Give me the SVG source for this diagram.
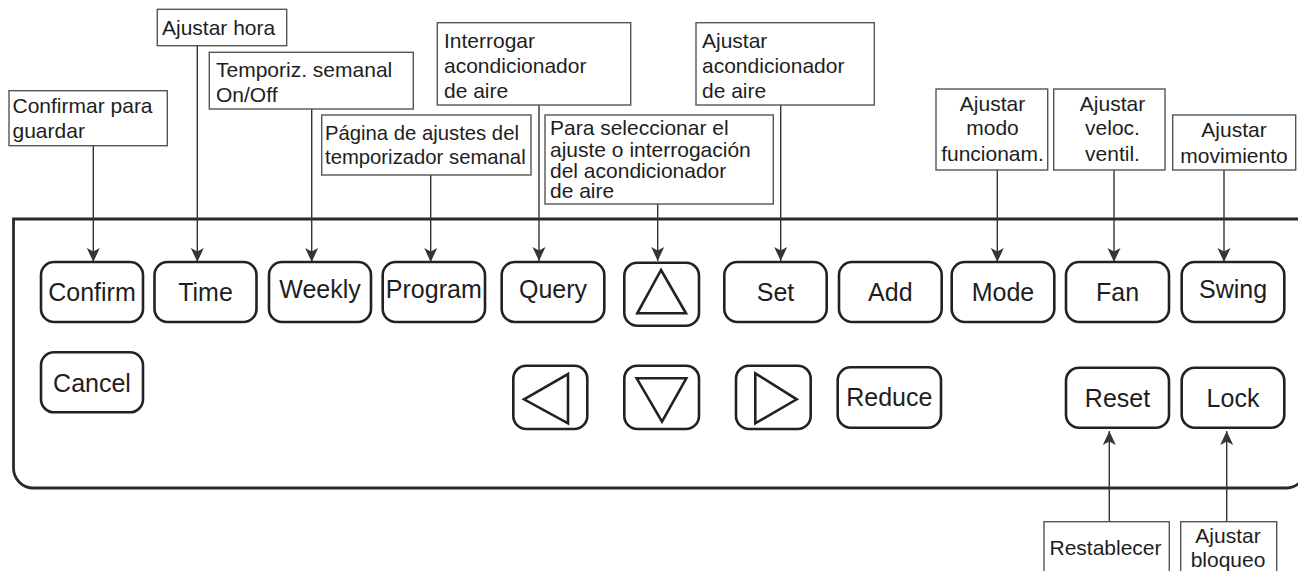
<svg xmlns="http://www.w3.org/2000/svg" width="1298" height="571" viewBox="0 0 1298 571">
<style>
.panel{fill:none;stroke:#2a2a2a;stroke-width:2.8}
.btn{fill:#fff;stroke:#222;stroke-width:2.6}
.tri{fill:none;stroke:#222;stroke-width:2.6;stroke-linejoin:miter}
.bt{font-family:"Liberation Sans",Arial,sans-serif;font-size:25px;fill:#1e1e1e;text-anchor:middle}
.lbl{fill:#fff;stroke:#555;stroke-width:1.4}
.lt{font-family:"Liberation Sans",Arial,sans-serif;font-size:21px;fill:#1e1e1e}
.c{text-anchor:middle}
.con{stroke:#333;stroke-width:1.4;fill:none;marker-end:url(#ah)}
</style>
<defs>
<marker id="ah" markerUnits="userSpaceOnUse" viewBox="-14 -7 14 14" markerWidth="14" markerHeight="14" refX="0" refY="0" orient="auto">
<path d="M0,0 L-14,-6.5 L-10.5,0 L-14,6.5 Z" fill="#2f3832"/>
</marker>
</defs>
<rect width="1298" height="571" fill="#fff"/>
<path class="panel" d="M1300,219 H13.5 V468 A20,20 0 0 0 33.5,488 H1286 A20,20 0 0 0 1306,468"/>

<g id="connectors">
<line class="con" x1="93.3" y1="145.7" x2="93.3" y2="262"/>
<line class="con" x1="197.3" y1="45.7" x2="197.3" y2="262"/>
<line class="con" x1="311.7" y1="109" x2="311.7" y2="262"/>
<line class="con" x1="430.7" y1="175" x2="430.7" y2="262"/>
<line class="con" x1="539" y1="105" x2="539" y2="261"/>
<line class="con" x1="657.7" y1="204" x2="657.7" y2="261"/>
<line class="con" x1="780.7" y1="105" x2="780.7" y2="261"/>
<line class="con" x1="997.3" y1="170" x2="997.3" y2="262"/>
<line class="con" x1="1114" y1="170" x2="1114" y2="262"/>
<line class="con" x1="1224" y1="170" x2="1224" y2="262"/>
<line class="con" x1="1109.3" y1="521.7" x2="1109.3" y2="431"/>
<line class="con" x1="1226.7" y1="521.7" x2="1226.7" y2="431"/>
</g>

<g id="btn-confirm"><rect class="btn" x="41" y="262" width="102" height="60" rx="13"/><text class="bt" x="92" y="300.7">Confirm</text></g>
<g id="btn-time"><rect class="btn" x="154.5" y="262" width="102" height="60" rx="13"/><text class="bt" x="205.5" y="300.7">Time</text></g>
<g id="btn-weekly"><rect class="btn" x="269" y="262" width="102" height="60" rx="13"/><text class="bt" x="320" y="298.3">Weekly</text></g>
<g id="btn-program"><rect class="btn" x="382.7" y="262" width="102.3" height="60" rx="13"/><text class="bt" x="433.8" y="298.3">Program</text></g>
<g id="btn-query"><rect class="btn" x="501.7" y="262" width="102.6" height="60" rx="13"/><text class="bt" x="553" y="298.3">Query</text></g>
<g id="btn-up"><rect class="btn" x="624.3" y="262.7" width="74.7" height="63" rx="13"/><polygon class="tri" points="661,270 637.3,313.3 686,313.3"/></g>
<g id="btn-set"><rect class="btn" x="724.3" y="262" width="102.4" height="60" rx="13"/><text class="bt" x="775.5" y="300.7">Set</text></g>
<g id="btn-add"><rect class="btn" x="839" y="262" width="102.7" height="60" rx="13"/><text class="bt" x="890.3" y="300.7">Add</text></g>
<g id="btn-mode"><rect class="btn" x="951.7" y="262" width="102.6" height="60" rx="13"/><text class="bt" x="1003" y="300.7">Mode</text></g>
<g id="btn-fan"><rect class="btn" x="1066" y="262" width="103" height="60" rx="13"/><text class="bt" x="1117.5" y="300.7">Fan</text></g>
<g id="btn-swing"><rect class="btn" x="1181.7" y="262" width="102.6" height="60" rx="13"/><text class="bt" x="1233" y="298.3">Swing</text></g>

<g id="btn-cancel"><rect class="btn" x="41" y="352.3" width="102" height="60" rx="13"/><text class="bt" x="92" y="391.7">Cancel</text></g>
<g id="btn-left"><rect class="btn" x="513.3" y="365.7" width="74" height="63.3" rx="13"/><polygon class="tri" points="524,399.3 568,374 568,423.3"/></g>
<g id="btn-down"><rect class="btn" x="624.3" y="365.7" width="74.7" height="63.3" rx="13"/><polygon class="tri" points="636.7,378.3 686.3,378.3 662,421.7"/></g>
<g id="btn-right"><rect class="btn" x="736" y="365.7" width="74.7" height="63.3" rx="13"/><polygon class="tri" points="755.3,373.3 755.3,423.3 796.7,399.3"/></g>
<g id="btn-reduce"><rect class="btn" x="837.7" y="367.3" width="103.3" height="60.4" rx="13"/><text class="bt" x="889.3" y="406">Reduce</text></g>
<g id="btn-reset"><rect class="btn" x="1066" y="367.7" width="103" height="60" rx="13"/><text class="bt" x="1117.5" y="406.7">Reset</text></g>
<g id="btn-lock"><rect class="btn" x="1181.7" y="367.7" width="102.6" height="60" rx="13"/><text class="bt" x="1233" y="406.7">Lock</text></g>

<g id="lbl-confirm"><rect class="lbl" x="9" y="90.7" width="158.3" height="55"/><text class="lt" x="12.5" y="113.3">Confirmar para</text><text class="lt" x="12.5" y="137.7">guardar</text></g>
<g id="lbl-time"><rect class="lbl" x="157.3" y="9.3" width="129.4" height="36.4"/><text class="lt" x="162" y="35">Ajustar hora</text></g>
<g id="lbl-weekly"><rect class="lbl" x="209.3" y="52.3" width="204" height="56.7"/><text class="lt" x="216" y="77.3">Temporiz. semanal</text><text class="lt" x="216" y="101.7">On/Off</text></g>
<g id="lbl-program"><rect class="lbl" x="321.7" y="115" width="209.3" height="60"/><text class="lt" x="325" y="140" style="font-size:20.3px">Página de ajustes del</text><text class="lt" x="325" y="164" style="font-size:20.3px">temporizador semanal</text></g>
<g id="lbl-query"><rect class="lbl" x="437.3" y="22.7" width="193.4" height="82.3"/><text class="lt" x="444" y="48.3">Interrogar</text><text class="lt" x="444" y="73.3">acondicionador</text><text class="lt" x="444" y="97.7">de aire</text></g>
<g id="lbl-arrows"><rect class="lbl" x="545" y="115" width="228.3" height="89"/><text class="lt" x="550" y="135">Para seleccionar el</text><text class="lt" x="550" y="156.7">ajuste o interrogación</text><text class="lt" x="550" y="177.7">del acondicionador</text><text class="lt" x="550" y="198.3">de aire</text></g>
<g id="lbl-set"><rect class="lbl" x="696" y="22.7" width="178.3" height="82.3"/><text class="lt" x="702" y="48.3">Ajustar</text><text class="lt" x="702" y="73.3">acondicionador</text><text class="lt" x="702" y="97.7">de aire</text></g>
<g id="lbl-mode"><rect class="lbl" x="936" y="89" width="111.7" height="81"/><text class="lt c" x="992.5" y="111">Ajustar</text><text class="lt c" x="992.5" y="135">modo</text><text class="lt c" x="992.5" y="160.7">funcionam.</text></g>
<g id="lbl-fan"><rect class="lbl" x="1053.7" y="89" width="111.3" height="81"/><text class="lt c" x="1112.5" y="111">Ajustar</text><text class="lt c" x="1112.5" y="135">veloc.</text><text class="lt c" x="1112.5" y="160.7">ventil.</text></g>
<g id="lbl-swing"><rect class="lbl" x="1172.7" y="115" width="123" height="55"/><text class="lt c" x="1234" y="137.3">Ajustar</text><text class="lt c" x="1234" y="162.7">movimiento</text></g>
<g id="lbl-reset"><rect class="lbl" x="1044" y="521.7" width="125.3" height="60"/><text class="lt c" x="1105.5" y="555">Restablecer</text></g>
<g id="lbl-lock"><rect class="lbl" x="1180.7" y="521.7" width="96" height="60"/><text class="lt c" x="1228" y="543.3">Ajustar</text><text class="lt c" x="1228" y="567">bloqueo</text></g>
</svg>
